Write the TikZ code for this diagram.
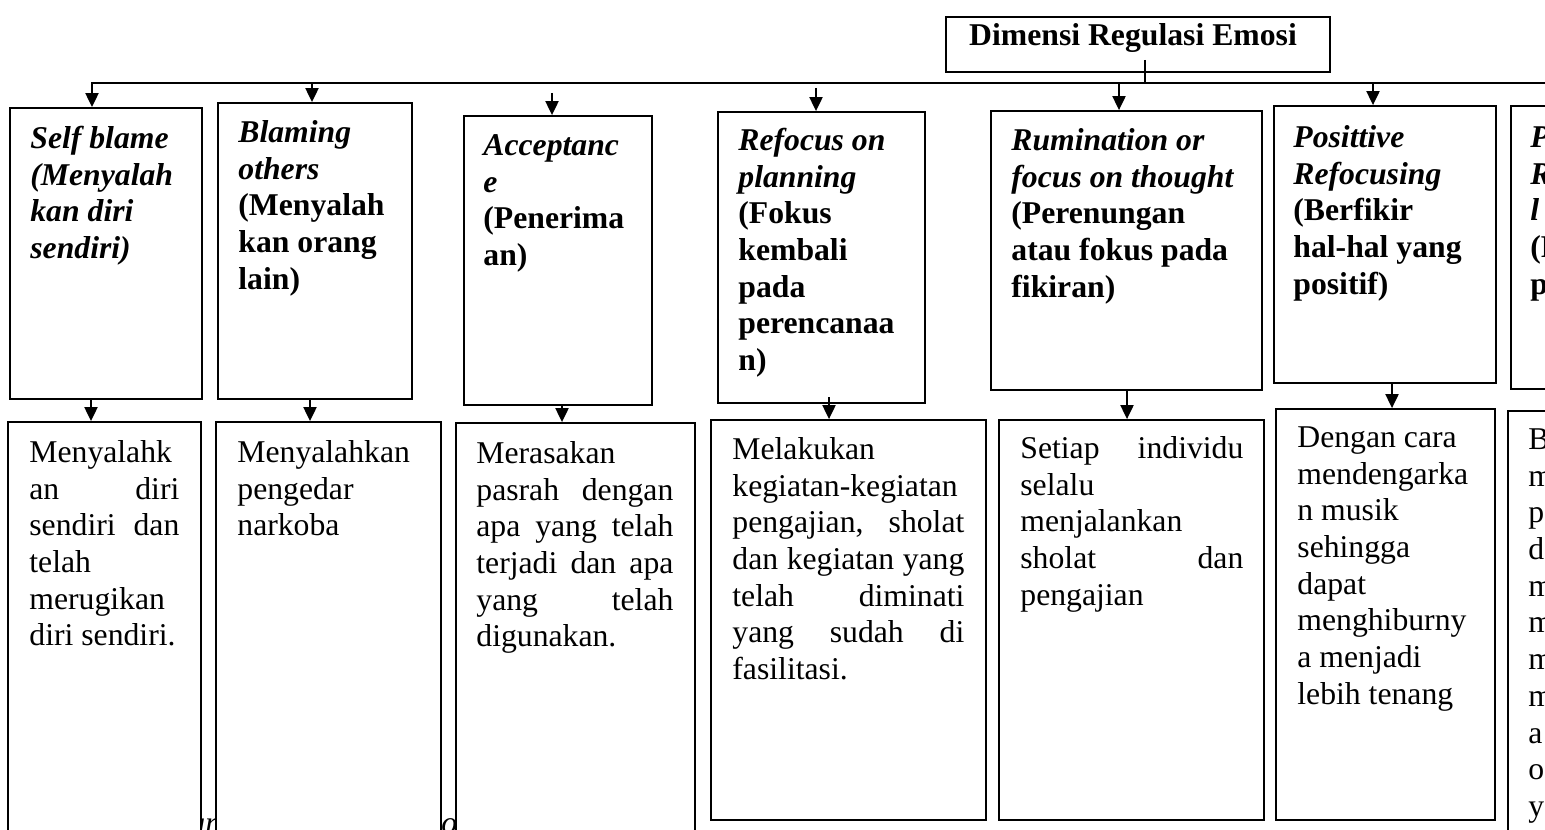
\documentclass[tikz,border=0pt]{standalone}
\usepackage{fontspec}
\setmainfont{Liberation Serif}
\usetikzlibrary{arrows.meta,fit}
\newcommand{\fs}{\fontsize{15.85pt}{18.35pt}\selectfont}
\newcommand{\jf}[2]{\hbox to #1{#2}}
\newcommand{\sh}{25.7}
\tikzset{
  bx/.style={draw, line width=0.9pt, fill=white, inner sep=0pt},
  hd/.style={anchor=north west, inner sep=0pt, align=left, font=\fs\bfseries},
  hdi/.style={anchor=north west, inner sep=0pt, align=left, font=\fs\bfseries\itshape},
  bd/.style={anchor=north west, inner sep=0pt, align=left, font=\fs},
  arr/.style={line width=1pt, -{Triangle[width=6.5pt,length=7pt]}},
  ln/.style={line width=1pt},
  frag/.style={anchor=base west, inner sep=0pt, font=\fs\itshape}
}
\begin{document}
\begin{tikzpicture}[x=0.5pt,y=-0.5pt]
\useasboundingbox (0,0) rectangle (1545,829);
\clip (0,0) rectangle (1545,829);

% caption fragments behind the boxes
\node[frag] (cap1) at (189,833) {un};
\node[frag] (cap2) at (441,833) {o};

% title
\node[bx, fit={(946,17) (1330,72)}] (tb) {};
\node[anchor=base, inner sep=0pt, font=\fs\bfseries] (tt) at (1133,46) {Dimensi Regulasi Emosi};

% top row boxes
\node[bx, fit={(10,108) (202,399)}] (t1) {};
\node[bx, fit={(218,103) (412,399)}] (t2) {};
\node[bx, fit={(464,116) (652,405)}] (t3) {};
\node[bx, fit={(718,112) (925,403)}] (t4) {};
\node[bx, fit={(991,111) (1262,390)}] (t5) {};
\node[bx, fit={(1274,106) (1496,383)}] (t6) {};
\node[bx, fit={(1511,106) (1580,389)}] (t7) {};

% bottom row boxes
\node[bx, fit={(8,422) (201,850)}] (d1) {};
\node[bx, fit={(216,422) (441,850)}] (d2) {};
\node[bx, fit={(456,423) (695,850)}] (d3) {};
\node[bx, fit={(711,420) (986,820)}] (d4) {};
\node[bx, fit={(999,420) (1264,820)}] (d5) {};
\node[bx, fit={(1276,409) (1495,820)}] (d6) {};
\node[bx, fit={(1508,411) (1580,850)}] (d7) {};

% main line and tick
\coordinate (hl) at (92,83);
\coordinate (hr) at (1560,83);
\coordinate (tk) at (1145,60);
\draw[line width=0.6pt] (tk) -- (tk |- hl);
\draw[arr] (hr) -- (hl) -- (hl |- t1.north);

% top arrows
\coordinate (a2) at (312,83);
\coordinate (a3) at (552,93);
\coordinate (a4) at (816,88);
\coordinate (a5) at (1119,83);
\coordinate (a6) at (1373,83);
\draw[arr] (a2) -- (a2 |- t2.north);
\draw[arr] (a3) -- (a3 |- t3.north);
\draw[arr] (a4) -- (a4 |- t4.north);
\draw[arr] (a5) -- (a5 |- t5.north);
\draw[arr] (a6) -- (a6 |- t6.north);

% bottom arrows
\coordinate (c1) at (91,0);
\coordinate (c2) at (310,0);
\coordinate (c3) at (562,0);
\coordinate (c4s) at (829,397);
\coordinate (c5) at (1127,0);
\coordinate (c6) at (1392,0);
\draw[arr] (c1 |- t1.south) -- (c1 |- d1.north);
\draw[arr] (c2 |- t2.south) -- (c2 |- d2.north);
\draw[arr] (c3 |- t3.south) -- (c3 |- d3.north);
\draw[arr] (c4s) -- (c4s |- d4.north);
\draw[arr] (c5 |- t5.south) -- (c5 |- d5.north);
\draw[arr] (c6 |- t6.south) -- (c6 |- d6.north);

% top texts
\node[hdi] (h1) at (30,{148-\sh}) {\strut Self blame\\(Menyalah\\kan diri\\sendiri)};
\node[hd] (h2) at (238,{142-\sh}) {\itshape\strut Blaming\\\itshape others\\(Menyalah\\kan orang\\lain)};
\node[hd] (h3) at (483,{155-\sh}) {\itshape\strut Acceptanc\\\itshape e\\(Penerima\\an)};
\node[hd] (h4) at (738,{150-\sh}) {\itshape\strut Refocus on\\\itshape planning\\(Fokus\\kembali\\pada\\perencanaa\\n)};
\node[hd] (h5) at (1011,{150-\sh}) {\itshape\strut Rumination or\\\itshape focus on thought\\(Perenungan\\atau fokus pada\\fikiran)};
\node[hd] (h6) at (1293,{147-\sh}) {\itshape\strut Posittive\\\itshape Refocusing\\(Berfikir\\hal-hal yang\\positif)};
\node[hd] (h7) at (1530,{147-\sh}) {\itshape\strut Positive\\\itshape Reappraisa\\\itshape l\\(Penilaian\\positif)};

% bottom texts
\node[bd] (e1) at (29,{462-\sh}) {\strut Menyalahk\\\jf{75pt}{an\hfill diri}\\\jf{75pt}{sendiri\hfill dan}\\telah\\merugikan\\diri sendiri.};
\node[bd] (e2) at (237,{462-\sh}) {\strut Menyalahkan\\pengedar\\narkoba};
\node[bd] (e3) at (476,{463-\sh}) {\strut Merasakan\\\jf{98.5pt}{pasrah\hfill dengan}\\\jf{98.5pt}{apa\hfill yang\hfill telah}\\\jf{98.5pt}{terjadi\hfill dan\hfill apa}\\\jf{98.5pt}{yang\hfill telah}\\digunakan.};
\node[bd] (e4) at (732,{459-\sh}) {\strut Melakukan\\kegiatan-kegiatan\\\jf{116pt}{pengajian,\hfill sholat}\\\jf{116pt}{dan\hfill kegiatan\hfill yang}\\\jf{116pt}{telah\hfill diminati}\\\jf{116pt}{yang\hfill sudah\hfill di}\\fasilitasi.};
\node[bd] (e5) at (1020,{458-\sh}) {\strut\jf{111.5pt}{Setiap\hfill individu}\\selalu\\menjalankan\\\jf{111.5pt}{sholat\hfill dan}\\pengajian};
\node[bd] (e6) at (1297,{447-\sh}) {\strut Dengan cara\\mendengarka\\n musik\\sehingga\\dapat\\menghiburny\\a menjadi\\lebih tenang};
\node[bd] (e7) at (1528,{449-\sh}) {\strut B\\m\\p\\d\\m\\m\\m\\m\\a\\o\\y};
\end{tikzpicture}
\end{document}
